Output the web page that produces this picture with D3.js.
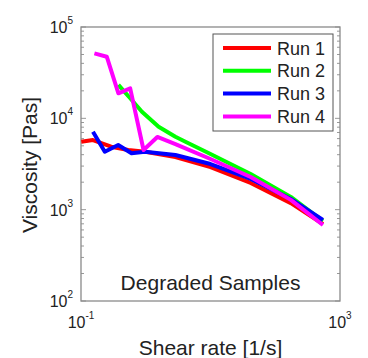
<!DOCTYPE html>
<html>
<head>
<meta charset="utf-8">
<script src="https://cdn.jsdelivr.net/npm/d3@7"></script>
<style>
  body { margin: 0; background: #fff; }
  text { font-family: Arial, "Liberation Sans", sans-serif; fill: #222; }
</style>
</head>
<body>
<div id="chart"></div>
<script>
// Data (shear rate [1/s], viscosity [Pas])
const run1Shear = [0.101, 0.153, 0.292, 0.536, 0.98, 2.87, 10, 41.7, 174, 545];
const run1Visc  = [5550, 5790, 4890, 4500, 4310, 3770, 2930, 1960, 1180, 697];

const run2Shear = [0.378, 0.575, 0.873, 1.58, 2.87, 4.1, 10, 41.7, 174, 545];
const run2Visc  = [23200, 16600, 11800, 8100, 6290, 5550, 4070, 2460, 1380, 751];

const run3Shear = [0.153, 0.233, 0.375, 0.603, 0.973, 2.87, 10, 41.7, 174, 545];
const run3Visc  = [7140, 4310, 5100, 4140, 4310, 3970, 3160, 2170, 1310, 771];

const run4Shear = [0.161, 0.25, 0.378, 0.575, 0.925, 1.51, 2.87, 10, 41.7, 174, 545];
const run4Visc  = [51500, 47300, 18800, 21300, 4500, 6250, 5230, 3590, 2280, 1280, 679];

const runNames  = ["Run 1", "Run 2", "Run 3", "Run 4"];
const runColors = ["#ff0000", "#00ff00", "#0000ff", "#ff00ff"];

const xTickExp = [-1, 3];
const yTickExp = [2, 3, 4, 5];

const W = 368, H = 358;
const margin = { top: 27, right: 28, bottom: 57, left: 81 };
const width = W - margin.left - margin.right;
const height = H - margin.top - margin.bottom;

const svg = d3.select("#chart").append("svg")
    .attr("width", W)
    .attr("height", H);

const g = svg.append("g")
    .attr("transform", "translate(" + margin.left + "," + margin.top + ")");

const x = d3.scaleLog().domain([0.1, 1000]).range([0, width]);
const y = d3.scaleLog().domain([100, 100000]).range([height, 0]);

// minor / major ticks on left and right
const yMinor = [];
for (let e = 2; e < 5; e++) {
    for (let m = 2; m <= 9; m++) yMinor.push(m * Math.pow(10, e));
}
[0, width].forEach(function(xx) {
    const dir = xx === 0 ? 1 : -1;
    g.selectAll(null)
        .data(yMinor)
        .enter()
        .append("line")
        .attr("x1", xx).attr("x2", xx + dir * 3)
        .attr("y1", d => y(d)).attr("y2", d => y(d))
        .attr("stroke", "#999").attr("stroke-width", 1);
    g.selectAll(null)
        .data(yTickExp)
        .enter()
        .append("line")
        .attr("x1", xx).attr("x2", xx + dir * 5)
        .attr("y1", d => y(Math.pow(10, d))).attr("y2", d => y(Math.pow(10, d)))
        .attr("stroke", "#999").attr("stroke-width", 1);
});

// plot frame
g.append("rect")
    .attr("x", 0).attr("y", 0)
    .attr("width", width).attr("height", height)
    .attr("fill", "none")
    .attr("stroke", "#8a8a8a")
    .attr("stroke-width", 1.3);

// data lines
const runs = [
    { shear: run1Shear, visc: run1Visc },
    { shear: run2Shear, visc: run2Visc },
    { shear: run3Shear, visc: run3Visc },
    { shear: run4Shear, visc: run4Visc }
];

const line = d3.line()
    .x(d => x(d[0]))
    .y(d => y(d[1]));

runs.forEach(function(r, i) {
    g.append("path")
        .datum(d3.zip(r.shear, r.visc))
        .attr("d", line)
        .attr("fill", "none")
        .attr("stroke", runColors[i])
        .attr("stroke-width", 4)
        .attr("stroke-linejoin", "round");
});

// y tick labels
yTickExp.forEach(function(e) {
    const t = g.append("text")
        .attr("x", -8)
        .attr("y", y(Math.pow(10, e)) + 6)
        .attr("text-anchor", "end")
        .style("font-size", "16px");
    t.append("tspan").text("10");
    t.append("tspan").attr("dy", -9).style("font-size", "10px").text(e);
});

// x tick labels
xTickExp.forEach(function(e) {
    const t = g.append("text")
        .attr("x", x(Math.pow(10, e)))
        .attr("y", height + 27)
        .attr("text-anchor", "middle")
        .style("font-size", "16px");
    t.append("tspan").text("10");
    t.append("tspan").attr("dy", -9).style("font-size", "10px").text(e);
});

// axis labels
g.append("text")
    .attr("x", width / 2)
    .attr("y", height + 54)
    .attr("text-anchor", "middle")
    .style("font-size", "21px")
    .text("Shear rate [1/s]");

svg.append("text")
    .attr("transform", "translate(37," + (margin.top + height / 2 + 1) + ") rotate(-90)")
    .attr("text-anchor", "middle")
    .style("font-size", "21px")
    .text("Viscosity [Pas]");

// annotation
g.append("text")
    .attr("x", width / 2)
    .attr("y", y(150) + 5)
    .attr("text-anchor", "middle")
    .style("font-size", "21px")
    .text("Degraded Samples");

// legend
const legend = g.append("g")
    .attr("transform", "translate(" + (width - 127) + ",7)");

legend.append("rect")
    .attr("x", 0).attr("y", 0)
    .attr("width", 120).attr("height", 97)
    .attr("fill", "#fff")
    .attr("stroke", "#555")
    .attr("stroke-width", 1);

legend.selectAll("line.key")
    .data(runNames)
    .enter()
    .append("line")
    .attr("class", "key")
    .attr("x1", 10).attr("x2", 58)
    .attr("y1", (d, i) => 14 + i * 22.8)
    .attr("y2", (d, i) => 14 + i * 22.8)
    .attr("stroke", (d, i) => runColors[i])
    .attr("stroke-width", 4);

legend.selectAll("text")
    .data(runNames)
    .enter()
    .append("text")
    .attr("x", 64)
    .attr("y", (d, i) => 20.5 + i * 22.8)
    .style("font-size", "18px")
    .text(d => d);
</script>
</body>
</html>
